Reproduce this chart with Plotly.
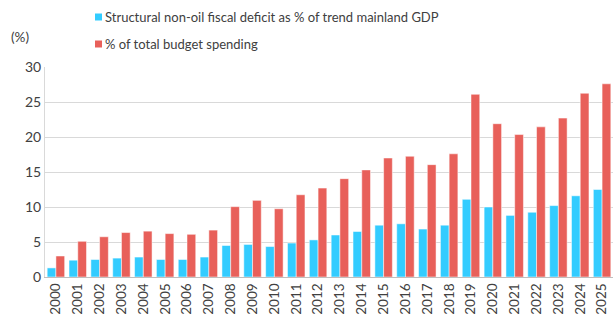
import plotly.graph_objects as go

years = [str(y) for y in range(2000, 2026)]
structural_deficit = [1.3, 2.4, 2.5, 2.7, 2.85, 2.5, 2.5, 2.85, 4.5, 4.65, 4.35, 4.85, 5.3,
                      6.0, 6.5, 7.4, 7.6, 6.85, 7.4, 11.1, 10.0, 8.8, 9.25, 10.2, 11.6, 12.5]
budget_share = [3.0, 5.1, 5.75, 6.35, 6.55, 6.2, 6.1, 6.7, 10.05, 10.95, 9.75, 11.75, 12.7,
                14.05, 15.3, 17.0, 17.25, 16.05, 17.6, 26.1, 21.9, 20.35, 21.45, 22.7, 26.25, 27.6]
series_names = ["Structural non-oil fiscal deficit as % of trend mainland GDP",
                "% of total budget spending"]
series_colors = ["#33CCFF", "#E8605A"]
yticks = [0, 5, 10, 15, 20, 25, 30]

fig = go.Figure()
for name, vals, col in zip(series_names, [structural_deficit, budget_share], series_colors):
    fig.add_trace(go.Bar(x=years, y=vals, name=name, showlegend=False,
                         marker=dict(color=col, line=dict(color="white", width=0.5))))

W, H = 613, 322
L, R, T, B = 45, 0, 67, 45
pw, ph = W - L - R, H - T - B

def px_x(x):
    return (x - L) / pw

def px_y(y):
    return (H - B - y) / ph

shapes = []
annotations = []
legend_rows = [17, 44]
for name, col, yc in zip(series_names, series_colors, legend_rows):
    shapes.append(dict(type="rect", xref="paper", yref="paper",
                       x0=px_x(95), x1=px_x(102), y0=px_y(yc + 3.5), y1=px_y(yc - 3.5),
                       fillcolor=col, line=dict(width=0)))
    annotations.append(dict(text=name, xref="paper", yref="paper", x=px_x(103), y=px_y(yc),
                            xanchor="left", yanchor="middle", showarrow=False,
                            font=dict(size=13, color="#404040")))
annotations.append(dict(text="(%)", xref="paper", yref="paper", x=px_x(20), y=px_y(37),
                        xanchor="center", yanchor="middle", showarrow=False,
                        font=dict(size=13.5, color="#404040")))

fig.update_layout(
    width=W, height=H,
    margin=dict(l=L, r=R, t=T, b=B, autoexpand=False),
    paper_bgcolor="white", plot_bgcolor="white",
    font=dict(family="Lato", color="#404040", size=13),
    barmode="group", bargap=0.2, bargroupgap=0,
    showlegend=False,
    xaxis=dict(type="category", tickmode="array", tickvals=years, ticktext=years,
               tickangle=-90, showgrid=False, showline=True,
               linecolor="#BFBFBF", linewidth=1, ticks="",
               tickfont=dict(size=13.5, color="#404040")),
    yaxis=dict(range=[0, 30], tickvals=yticks, showgrid=True, gridcolor="#D9D9D9",
               gridwidth=1, showline=True, linecolor="#D9D9D9", linewidth=1,
               zeroline=False, ticks="", tickfont=dict(size=14, color="#404040")),
    shapes=shapes,
    annotations=annotations,
)

fig.write_html("out.html")
